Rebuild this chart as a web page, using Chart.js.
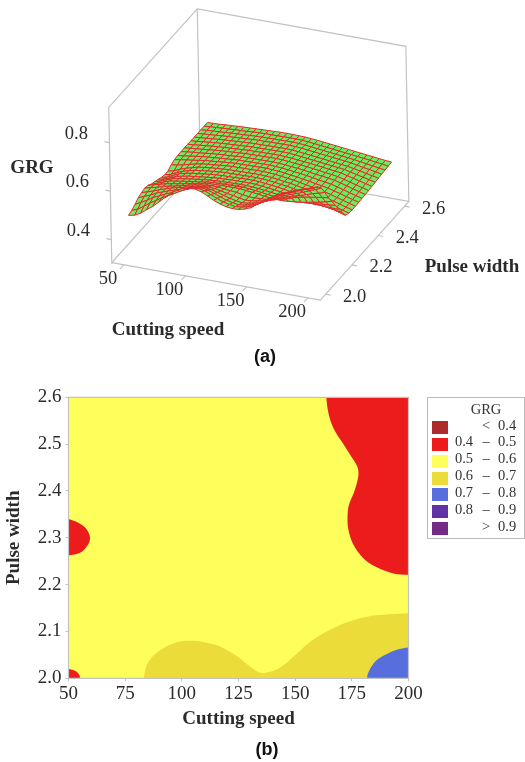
<!DOCTYPE html>
<html>
<head>
<meta charset="utf-8">
<title>GRG surface and contour</title>
<script src="https://cdn.jsdelivr.net/npm/chart.js@4"></script>
<style>
    body { margin: 0; background: #fff; }
    canvas { position: absolute; left: 0; }
    #surfaceChart { top: 0; }
    #contourChart { top: 370px; }
    #legendBox { position: absolute; left: 427px; top: 397px; width: 96px; height: 140px; border: 1px solid #bbb; }
    #legendBox span { position: absolute; font: 14.5px "Liberation Serif", serif; color: #333; line-height: 14px; white-space: nowrap; }
    #legendBox i { position: absolute; left: 4px; width: 16px; height: 13px; }
</style>
</head>
<body>
<canvas id="surfaceChart" width="525" height="370"></canvas>
<canvas id="contourChart" width="525" height="392"></canvas>
<div id="legendBox"></div>
<script>
// Grid of the 3D surface
const cuttingSpeeds = [50, 55, 60, 65, 70, 75, 80, 85, 90, 95, 100, 105, 110, 115, 120, 125, 130, 135, 140, 145, 150, 155, 160, 165, 170, 175, 180, 185, 190, 195, 200];
const pulseWidths = [2.6, 2.575, 2.55, 2.525, 2.5, 2.475, 2.45, 2.425, 2.4, 2.375, 2.35, 2.325, 2.3, 2.275, 2.25, 2.225, 2.2, 2.175, 2.15, 2.125, 2.1, 2.075, 2.05, 2.025, 2.0];

// GRG, one row per pulse width
const grgRows = [
    [.505,.506,.507,.509,.510,.512,.513,.514,.515,.516,.517,.518,.519,.519,.519,.518,.517,.515,.513,.510,.507,.504,.501,.498,.495,.492,.489,.486,.483,.480,.478],
    [.505,.507,.508,.510,.511,.513,.514,.515,.517,.518,.519,.519,.519,.520,.520,.520,.519,.517,.514,.511,.508,.505,.502,.499,.496,.493,.490,.487,.483,.480,.476],
    [.505,.507,.509,.510,.512,.514,.515,.516,.518,.519,.520,.520,.521,.521,.522,.522,.521,.519,.516,.513,.510,.507,.504,.501,.498,.495,.491,.487,.483,.479,.475],
    [.505,.507,.509,.511,.513,.515,.516,.518,.519,.521,.522,.522,.523,.523,.524,.524,.523,.521,.518,.515,.512,.509,.506,.503,.500,.497,.492,.487,.483,.478,.473],
    [.505,.507,.509,.512,.514,.516,.517,.519,.520,.522,.523,.523,.524,.524,.525,.525,.524,.522,.519,.516,.513,.510,.507,.504,.501,.498,.493,.488,.482,.477,.472],
    [.505,.507,.510,.512,.515,.517,.519,.520,.522,.523,.525,.525,.526,.526,.527,.527,.526,.524,.521,.518,.515,.512,.509,.506,.503,.500,.494,.488,.482,.476,.470],
    [.506,.508,.511,.513,.516,.518,.520,.521,.523,.524,.526,.526,.527,.527,.528,.528,.527,.525,.522,.520,.517,.514,.511,.507,.504,.501,.494,.488,.481,.475,.468],
    [.506,.509,.511,.514,.516,.519,.521,.523,.524,.526,.528,.528,.529,.529,.530,.530,.529,.527,.524,.522,.519,.515,.512,.508,.505,.501,.494,.487,.480,.473,.466],
    [.506,.509,.512,.514,.517,.520,.522,.524,.525,.527,.529,.529,.530,.530,.531,.531,.530,.528,.525,.523,.520,.516,.512,.509,.505,.501,.494,.487,.479,.472,.465],
    [.505,.508,.511,.515,.518,.521,.523,.525,.527,.529,.531,.531,.532,.532,.533,.533,.532,.530,.527,.524,.521,.517,.513,.508,.504,.500,.493,.486,.478,.471,.464],
    [.503,.507,.511,.514,.518,.522,.524,.526,.529,.531,.533,.533,.534,.534,.535,.535,.534,.532,.529,.525,.522,.517,.513,.508,.504,.499,.492,.485,.477,.470,.463],
    [.497,.500,.506,.512,.518,.523,.526,.528,.531,.533,.535,.535,.536,.536,.537,.537,.536,.534,.531,.527,.524,.519,.514,.509,.504,.499,.492,.484,.477,.469,.462],
    [.486,.492,.503,.511,.518,.525,.528,.531,.533,.535,.537,.537,.538,.538,.539,.539,.538,.536,.533,.529,.526,.521,.516,.510,.505,.499,.492,.484,.477,.469,.462],
    [.486,.492,.504,.514,.521,.527,.530,.533,.536,.538,.540,.540,.541,.541,.542,.542,.541,.539,.536,.532,.529,.524,.518,.513,.507,.502,.494,.487,.479,.471,.464],
    [.490,.496,.508,.519,.525,.530,.533,.536,.539,.541,.543,.543,.544,.545,.546,.546,.545,.542,.539,.536,.532,.527,.522,.517,.512,.507,.500,.493,.486,.478,.470],
    [.497,.503,.512,.523,.528,.533,.536,.539,.542,.545,.547,.548,.549,.549,.550,.550,.549,.546,.543,.540,.536,.532,.528,.525,.521,.517,.513,.509,.505,.501,.497],
    [.503,.510,.519,.529,.533,.537,.541,.544,.547,.550,.552,.553,.554,.554,.555,.555,.553,.551,.548,.545,.541,.538,.535,.533,.531,.530,.529,.528,.527,.526,.525],
    [.508,.516,.525,.534,.538,.542,.546,.550,.553,.557,.560,.561,.562,.562,.563,.563,.561,.558,.555,.551,.548,.546,.545,.544,.544,.545,.547,.549,.552,.554,.557],
    [.518,.525,.531,.538,.543,.547,.552,.557,.561,.566,.570,.571,.572,.572,.572,.572,.569,.566,.563,.559,.556,.555,.555,.556,.559,.562,.566,.571,.576,.582,.588],
    [.522,.528,.534,.542,.548,.553,.559,.565,.571,.575,.579,.581,.580,.577,.574,.572,.567,.563,.563,.564,.565,.569,.575,.582,.590,.598,.603,.607,.611,.615,.618],
    [.518,.526,.534,.544,.552,.560,.566,.572,.579,.585,.589,.591,.589,.584,.578,.574,.568,.564,.566,.570,.574,.583,.592,.601,.610,.618,.625,.633,.641,.648,.655],
    [.512,.522,.532,.545,.554,.563,.571,.579,.587,.595,.601,.603,.600,.593,.585,.578,.572,.568,.571,.577,.583,.594,.606,.618,.630,.640,.648,.658,.668,.678,.688],
    [.500,.513,.526,.542,.553,.565,.575,.586,.596,.606,.615,.617,.613,.604,.594,.585,.579,.575,.578,.585,.592,.606,.620,.634,.648,.660,.670,.680,.690,.699,.708],
    [.490,.500,.516,.534,.549,.565,.578,.592,.606,.619,.628,.630,.625,.614,.603,.593,.587,.583,.585,.592,.600,.616,.633,.648,.662,.675,.685,.695,.704,.712,.720],
    [.485,.490,.503,.522,.540,.562,.585,.607,.625,.637,.642,.643,.636,.624,.610,.600,.593,.590,.591,.597,.607,.625,.645,.660,.675,.687,.697,.706,.715,.723,.730]
];

// Tick labels
const speedTicks3d = [50, 100, 150, 200];
const widthTicks3d = [2.0, 2.2, 2.4, 2.6];
const grgTicks3d = [0.4, 0.6, 0.8];

// Contour bands of panel (b), [cutting speed, pulse width]
// each one runs a little past the plot edge, the chart area clips that part
const band06to07 = [[83.2,1.985],[83.3,2],[83.5,2.01],[85.2,2.035],[90.4,2.06],[97.8,2.077],[105.1,2.08],[111,2.076],[116.9,2.068],[125,2.045],[130.1,2.025],[134.5,2.012],[139,2.014],[143.4,2.023],[149.2,2.046],[155.9,2.075],[162.5,2.096],[169.9,2.114],[178.7,2.128],[186.8,2.135],[195.6,2.138],[200,2.139],[205,2.14],[205,1.985],[83.2,1.985]];
const band07to08 = [[181.7,1.985],[181.8,2],[181.9,2.007],[183.4,2.023],[186,2.039],[190.5,2.052],[195.6,2.062],[200,2.066],[205,2.068],[205,1.985],[181.7,1.985]];
const band04to05Right = [[163.2,2.63],[163.7,2.6],[164.7,2.566],[166.9,2.534],[170.6,2.505],[174.3,2.477],[177.5,2.451],[177.8,2.43],[176,2.398],[173.7,2.37],[173.1,2.345],[173.5,2.317],[175.7,2.285],[180.2,2.256],[186,2.237],[193.4,2.224],[200,2.221],[205,2.22],[205,2.63],[163.2,2.63]];
const band04to05Left = [[46,2.345],[50,2.34],[54.3,2.332],[57.7,2.32],[59.5,2.301],[58.3,2.283],[55.1,2.268],[50,2.262],[46,2.258],[46,2.345]];
const band04to05Corner = [[46,2.022],[50,2.02],[52.9,2.016],[54.8,2.007],[55,2],[55.1,1.985],[46,1.985],[46,2.022]];
const plotFrame = [[50,2],[200,2],[200,2.6],[50,2.6],[50,2]];

// Legend of panel (b)
const legendLow = ['', '0.4', '0.5', '0.6', '0.7', '0.8', ''];
const legendSign = ['<', '–', '–', '–', '–', '–', '>'];
const legendHigh = ['0.4', '0.5', '0.6', '0.7', '0.8', '0.9', '0.9'];
const legendColors = ['#ad2b2b', '#ec1c1c', '#ffff5c', '#ecdc3a', '#566fdc', '#6134a6', '#732b84'];

const serif = '"Liberation Serif", serif';
const sans = '"Liberation Sans", sans-serif';
const boxColor = '#c2c2c2';
const textColor = '#2b2b2b';

// Oblique view used by panel (a), gives page pixels for a data point
function project(speed, width, grg) {
    return {
        x: 129.3 + 1.227 * (speed - 50) + 131.7 * (width - 2) - 4.7 * (grg - 0.305),
        y: 259 + 0.22 * (speed - 50) - 146.7 * (width - 2) - 242.5 * (grg - 0.305)
    };
}

// Axis box limits of panel (a)
const xLo = 40, xHi = 210, yLo = 1.96, yHi = 2.632, zLo = 0.305, zHi = 0.945;

function lineDataset(points, color, width, order) {
    return { data: points, showLine: true, fill: false, borderColor: color, borderWidth: width, pointRadius: 0, tension: 0, order: order, clip: false };
}

function surfaceDatasets() {
    const sets = [];
    const boxEdges = [
        [[xLo, yLo, zLo], [xHi, yLo, zLo], [xHi, yHi, zLo], [xLo, yHi, zLo], [xLo, yLo, zLo], [xLo, yLo, zHi], [xLo, yHi, zHi], [xHi, yHi, zHi], [xHi, yHi, zLo]],
        [[xLo, yHi, zLo], [xLo, yHi, zHi]]
    ];
    boxEdges.forEach(edge => {
        sets.push(lineDataset(edge.map(p => project(p[0], p[1], p[2])), boxColor, 1.2, 100000));
    });

    // Small tick marks on the three axes
    speedTicks3d.forEach(t => {
        const p = project(t, yLo, zLo);
        sets.push(lineDataset([p, { x: p.x - 4, y: p.y + 4 }], boxColor, 1.2, 100000));
    });
    widthTicks3d.forEach(t => {
        const p = project(xHi, t, zLo);
        sets.push(lineDataset([p, { x: p.x + 5, y: p.y + 1 }], boxColor, 1.2, 100000));
    });
    grgTicks3d.forEach(t => {
        const p = project(xLo, yLo, t);
        sets.push(lineDataset([p, { x: p.x - 5, y: p.y - 1 }], boxColor, 1.2, 100000));
    });

    // One quad per mesh cell, far cells first so near ones paint over them
    let order = 90000;
    for (let r = 0; r < pulseWidths.length - 1; r++) {
        for (let c = 0; c < cuttingSpeeds.length - 1; c++) {
            const quad = [[r, c], [r, c + 1], [r + 1, c + 1], [r + 1, c], [r, c]];
            const ds = lineDataset(quad.map(q => project(cuttingSpeeds[q[1]], pulseWidths[q[0]], grgRows[q[0]][q[1]])), '#e8262a', 1, order--);
            ds.fill = 'shape';
            ds.backgroundColor = '#66f060';
            sets.push(ds);
        }
    }
    return sets;
}

// Writes the free standing texts of a panel
function textPlugin(items) {
    return {
        id: 'panelTexts',
        afterDraw(chart) {
            const ctx = chart.ctx;
            ctx.save();
            ctx.textAlign = 'center';
            ctx.textBaseline = 'middle';
            items.forEach(t => {
                ctx.font = t.font;
                ctx.fillStyle = t.color || textColor;
                ctx.fillText(t.text, t.x, t.y);
            });
            ctx.restore();
        }
    };
}

const tickFont = '18.5px ' + serif;
const titleFont = 'bold 19px ' + serif;
const captionFont = 'bold 18px ' + sans;

const surfaceTexts = [
    { text: 'GRG', x: 32, y: 168, font: titleFont },
    { text: 'Cutting speed', x: 168, y: 330, font: titleFont },
    { text: 'Pulse width', x: 472, y: 267, font: titleFont },
    { text: '(a)', x: 265, y: 357, font: captionFont, color: '#111' }
];
speedTicks3d.forEach(t => {
    const p = project(t, yLo, zLo);
    surfaceTexts.push({ text: String(t), x: p.x - 16, y: p.y + 14, font: tickFont });
});
widthTicks3d.forEach(t => {
    const p = project(xHi, t, zLo);
    surfaceTexts.push({ text: t.toFixed(1), x: p.x + 29, y: p.y + 2.5, font: tickFont });
});
grgTicks3d.forEach(t => {
    const p = project(xLo, yLo, t);
    surfaceTexts.push({ text: t.toFixed(1), x: p.x - 33, y: p.y - 8.5, font: tickFont });
});

new Chart(document.getElementById('surfaceChart'), {
    type: 'scatter',
    data: { datasets: surfaceDatasets() },
    options: {
        responsive: false,
        animation: false,
        events: [],
        layout: { padding: 0 },
        plugins: { legend: { display: false }, tooltip: { enabled: false } },
        scales: {
            x: { type: 'linear', min: 0, max: 525, display: false },
            y: { type: 'linear', min: 0, max: 370, reverse: true, display: false }
        }
    },
    plugins: [textPlugin(surfaceTexts)]
});

// Filled contour band, smooth edge unless tension is 0
function polygon(points, color, order, tension) {
    const ds = lineDataset(points.map(p => ({ x: p[0], y: p[1] })), color, 0, order);
    ds.fill = 'shape';
    ds.backgroundColor = color;
    ds.tension = tension;
    ds.capBezierPoints = false;
    delete ds.clip;
    return ds;
}

new Chart(document.getElementById('contourChart'), {
    type: 'scatter',
    data: {
        datasets: [
            polygon(plotFrame, legendColors[2], 10, 0),
            polygon(band06to07, legendColors[3], 9, 0.35),
            polygon(band07to08, legendColors[4], 8, 0.35),
            polygon(band04to05Right, legendColors[1], 7, 0.35),
            polygon(band04to05Left, legendColors[1], 6, 0.35),
            polygon(band04to05Corner, legendColors[1], 5, 0.35),
            lineDataset(plotFrame.map(p => ({ x: p[0], y: p[1] })), boxColor, 1.2, 1)
        ]
    },
    options: {
        responsive: false,
        animation: false,
        events: [],
        layout: { padding: { left: 0, right: 116.5, top: 27.3, bottom: 0 } },
        plugins: { legend: { display: false }, tooltip: { enabled: false } },
        scales: {
            x: {
                type: 'linear', min: 50, max: 200,
                afterFit(scale) { scale.height = 83.7; },
                border: { color: boxColor },
                grid: { drawOnChartArea: false, tickLength: 3, color: boxColor },
                ticks: { stepSize: 25, maxRotation: 0, padding: 1, color: textColor, font: { family: serif, size: 19 } },
                title: { display: true, text: 'Cutting speed', color: textColor, font: { family: serif, size: 19, weight: 'bold' }, padding: { top: 0, bottom: 31.6 } }
            },
            y: {
                type: 'linear', min: 2.0, max: 2.6,
                afterFit(scale) { scale.width = 68.5; },
                border: { color: boxColor },
                grid: { drawOnChartArea: false, tickLength: 3, color: boxColor },
                ticks: { stepSize: 0.1, padding: 4, color: textColor, font: { family: serif, size: 19 }, callback: v => v.toFixed(1) },
                title: { display: true, text: 'Pulse width', color: textColor, font: { family: serif, size: 19, weight: 'bold' }, padding: { top: 3, bottom: 2 } }
            }
        }
    },
    plugins: [textPlugin([{ text: '(b)', x: 267, y: 380, font: captionFont, color: '#111' }])]
});

// Legend box, built from the legend arrays
const legendBox = document.getElementById('legendBox');
function legendText(text, left, top, width, align) {
    const s = document.createElement('span');
    s.textContent = text;
    s.style.left = left + 'px';
    s.style.top = top + 'px';
    s.style.width = width + 'px';
    s.style.textAlign = align;
    legendBox.appendChild(s);
}
legendText('GRG', 38, 4, 40, 'center');
legendColors.forEach((color, i) => {
    const top = 23 + i * 16.85;
    const swatch = document.createElement('i');
    swatch.style.top = top + 'px';
    swatch.style.background = color;
    legendBox.appendChild(swatch);
    legendText(legendLow[i], 26, top - 3.5, 20, 'center');
    legendText(legendSign[i], 48, top - 3.5, 20, 'center');
    legendText(legendHigh[i], 70, top - 3.5, 20, 'left');
});
</script>
</body>
</html>
